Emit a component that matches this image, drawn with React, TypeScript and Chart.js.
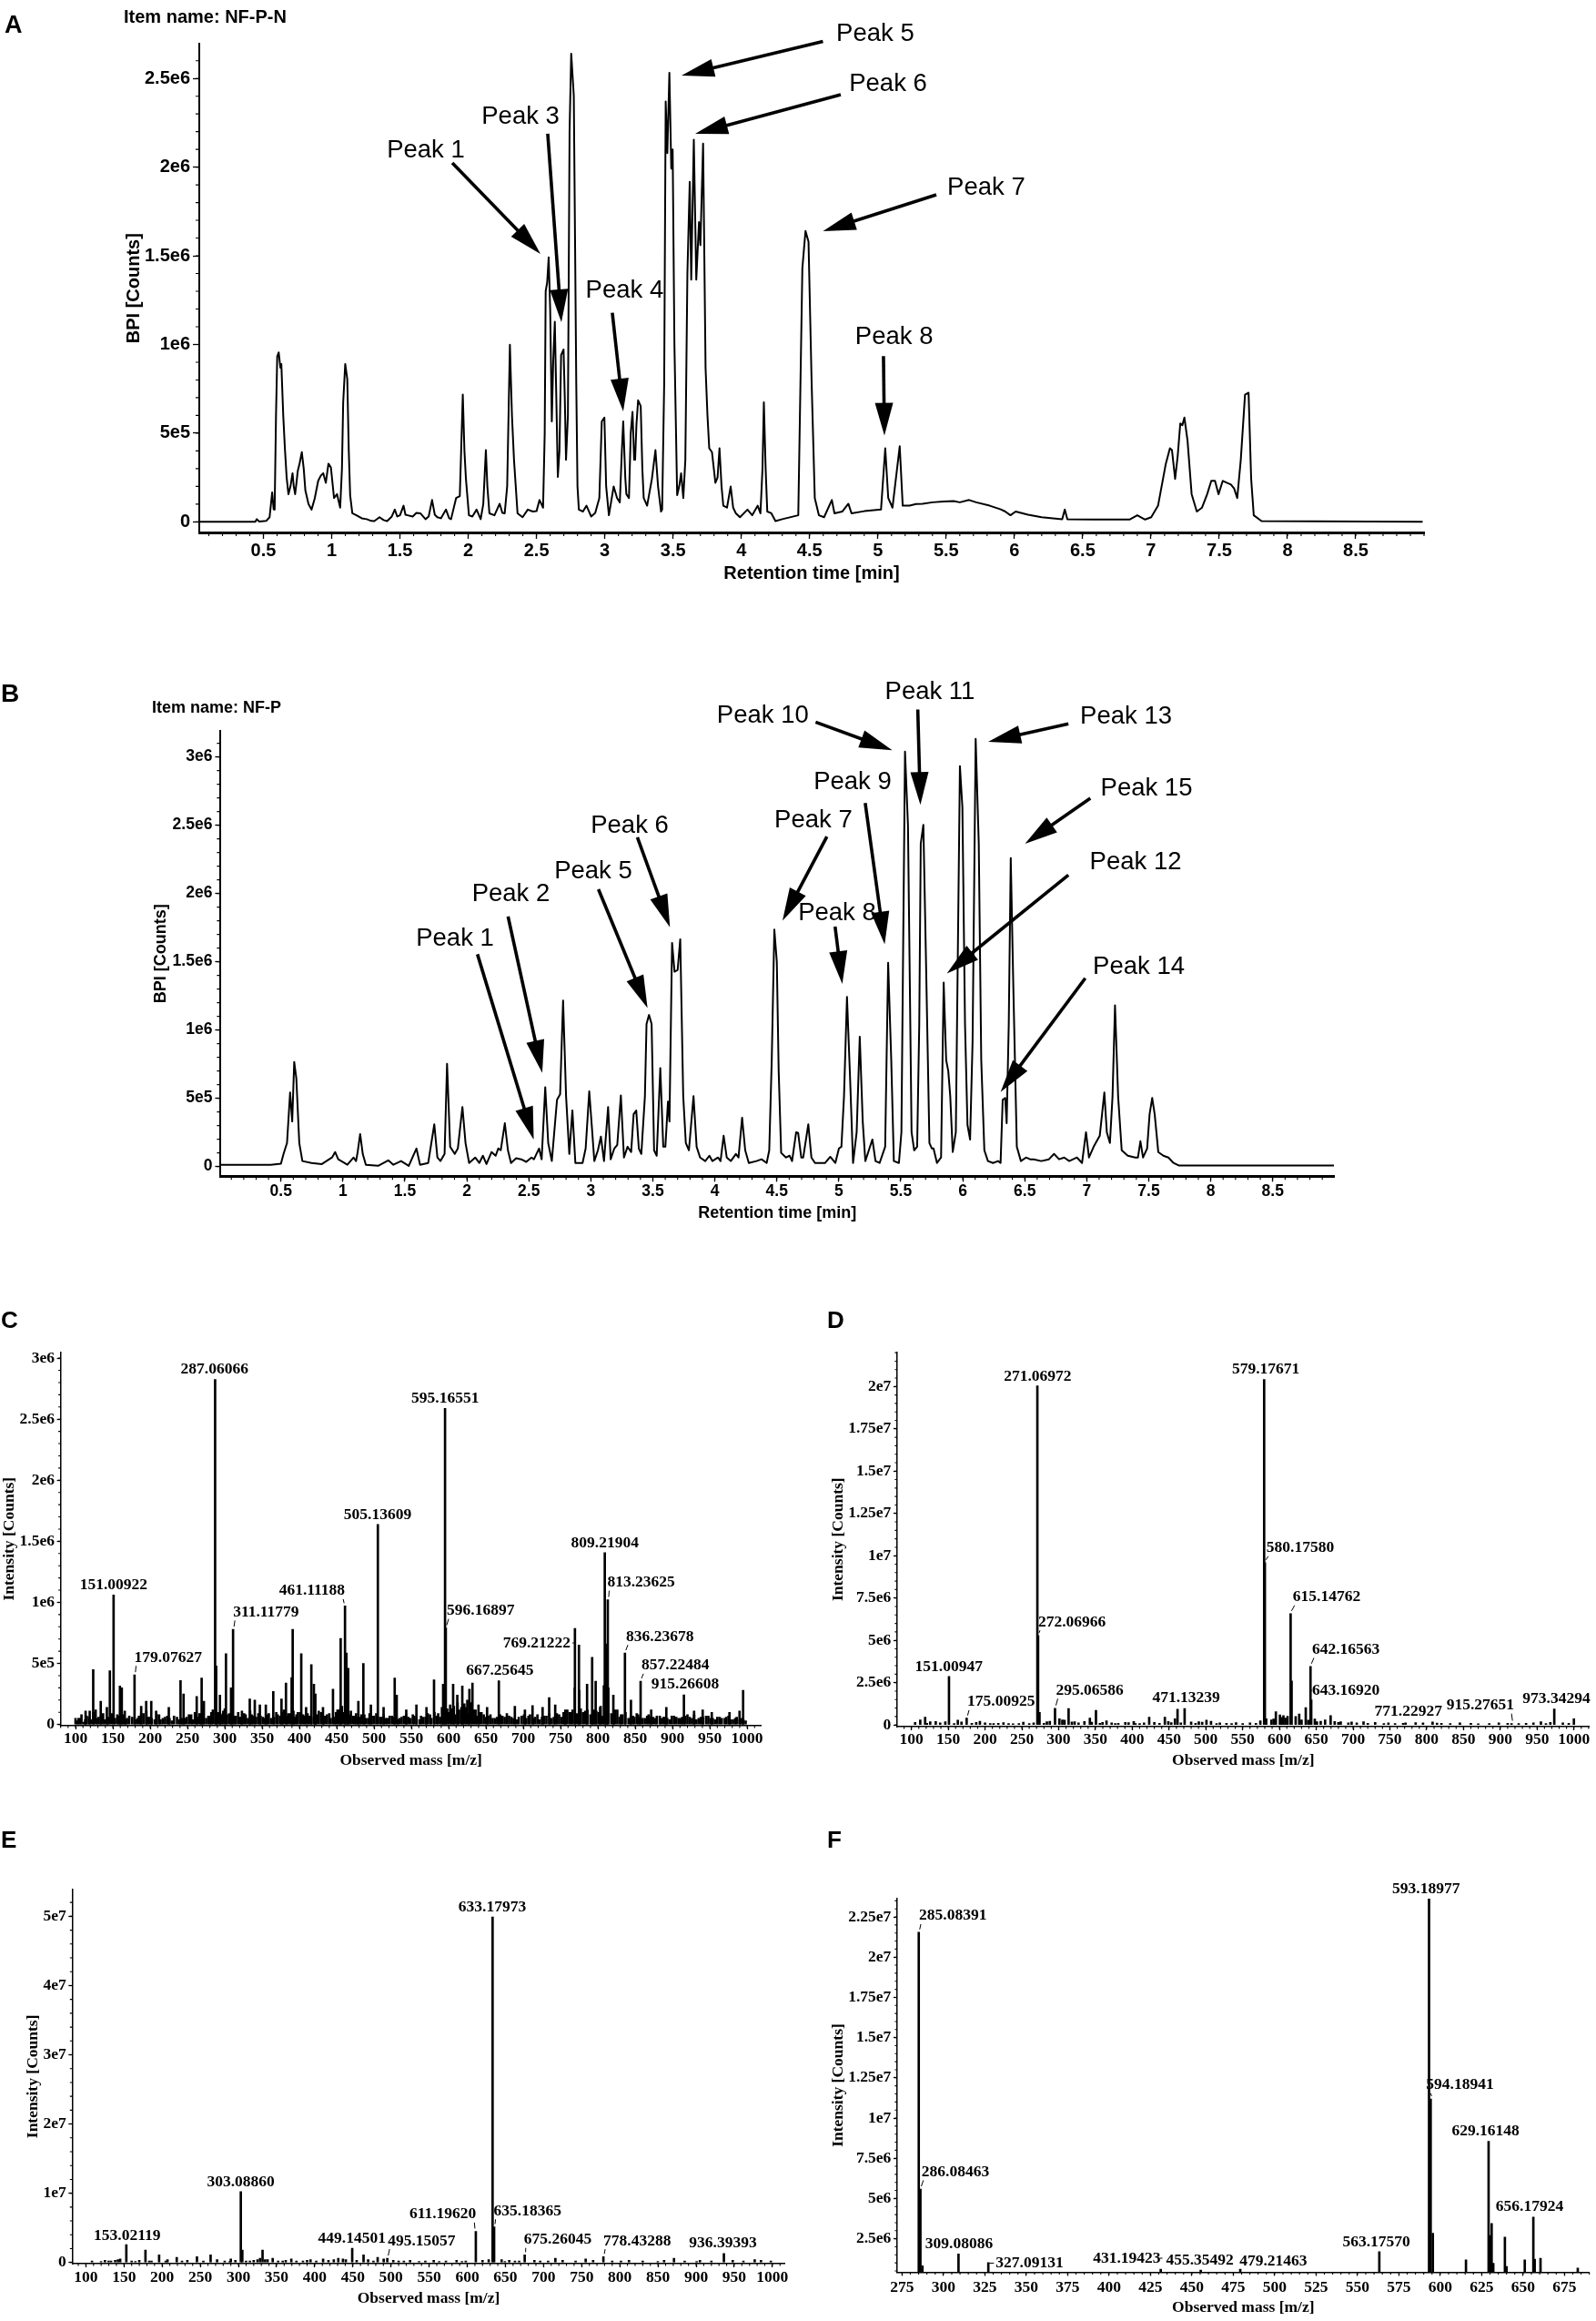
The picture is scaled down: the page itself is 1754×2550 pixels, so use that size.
import React, { useEffect, useRef } from 'react';
import { Chart, registerables } from 'chart.js';

Chart.register(...registerables);

// ---------------- Panel A : BPI chromatogram NF-P-N (intensity in millions of counts) ----------------
const A_TIME = [
  0.03,0.44,0.451,0.47,0.52,0.545,0.564,0.575,0.582,0.592,
  0.601,0.612,0.624,0.631,0.645,0.657,0.67,0.683,0.698,0.713,
  0.722,0.732,0.742,0.751,0.765,0.781,0.795,0.807,0.83,0.852,
  0.875,0.901,0.92,0.938,0.957,0.976,0.994,1.017,1.039,1.062,
  1.075,1.084,1.099,1.114,1.125,1.135,1.151,1.181,1.22,1.256,
  1.29,1.312,1.35,1.38,1.406,1.44,1.462,1.48,1.5,1.526,
  1.54,1.556,1.593,1.62,1.649,1.687,1.71,1.735,1.755,1.773,
  1.8,1.837,1.86,1.874,1.911,1.938,1.948,1.96,1.972,1.983,
  2.005,2.03,2.061,2.091,2.11,2.129,2.14,2.155,2.192,2.23,
  2.25,2.267,2.285,2.305,2.32,2.335,2.361,2.398,2.436,2.473,
  2.5,2.522,2.548,2.56,2.567,2.578,2.589,2.6,2.612,2.622,
  2.634,2.645,2.656,2.668,2.68,2.698,2.707,2.716,2.73,2.742,
  2.754,2.773,2.782,2.791,2.8,2.81,2.84,2.866,2.9,2.93,
  2.96,2.978,2.997,3.01,3.03,3.065,3.09,3.11,3.125,3.135,
  3.15,3.158,3.177,3.19,3.203,3.215,3.222,3.232,3.244,3.263,
  3.275,3.285,3.31,3.345,3.371,3.39,3.412,3.42,3.435,3.446,
  3.458,3.473,3.487,3.497,3.51,3.53,3.545,3.559,3.575,3.59,
  3.605,3.622,3.633,3.652,3.67,3.69,3.7,3.72,3.738,3.752,
  3.765,3.785,3.81,3.826,3.84,3.855,3.868,3.895,3.922,3.94,
  3.96,3.99,4.045,4.08,4.12,4.14,4.155,4.165,4.178,4.19,
  4.22,4.25,4.3,4.417,4.447,4.47,4.492,4.515,4.538,4.568,
  4.606,4.663,4.682,4.739,4.784,4.807,4.9,5.023,5.054,5.076,
  5.107,5.16,5.182,5.232,5.28,5.327,5.4,5.48,5.554,5.6,
  5.668,5.72,5.819,5.9,5.933,5.971,6.009,6.1,6.199,6.35,
  6.369,6.388,6.578,6.843,6.9,6.957,7.002,7.052,7.109,7.139,
  7.154,7.177,7.196,7.215,7.23,7.245,7.268,7.298,7.336,7.374,
  7.412,7.442,7.469,7.495,7.526,7.556,7.586,7.609,7.632,7.658,
  7.689,7.715,7.734,7.753,7.81,8.99,
];
const A_BPI = [
  0,0,0.015,0.002,0.005,0.026,0.166,0.07,0.069,0.6,
  0.933,0.955,0.869,0.89,0.6,0.415,0.25,0.156,0.2,0.274,
  0.2,0.156,0.22,0.285,0.33,0.393,0.3,0.177,0.1,0.069,
  0.13,0.231,0.26,0.274,0.22,0.328,0.307,0.134,0.156,0.08,
  0.3,0.674,0.89,0.804,0.4,0.15,0.048,0.037,0.02,0.015,
  0.005,0.004,0.026,0.01,0.004,0.03,0.069,0.03,0.037,0.091,
  0.04,0.037,0.03,0.05,0.048,0.015,0.03,0.123,0.04,0.026,
  0.02,0.069,0.02,0.015,0.134,0.145,0.4,0.717,0.4,0.242,
  0.037,0.03,0.069,0.015,0.1,0.404,0.2,0.048,0.037,0.102,
  0.05,0.048,0.2,0.998,0.6,0.35,0.048,0.026,0.069,0.058,
  0.06,0.123,0.08,0.5,1.3,1.35,1.491,1.2,0.566,0.9,
  1.128,0.7,0.253,0.4,0.94,0.972,0.7,0.35,0.6,2.2,
  2.64,2.403,1.6,0.782,0.2,0.069,0.058,0.091,0.03,0.05,
  0.134,0.566,0.588,0.2,0.037,0.199,0.134,0.11,0.4,0.566,
  0.25,0.156,0.134,0.5,0.62,0.35,0.35,0.55,0.685,0.653,
  0.3,0.134,0.091,0.242,0.404,0.2,0.058,0.069,0.782,2.37,
  2.079,2.532,1.992,2.1,1.0,0.15,0.2,0.274,0.134,0.35,
  1.4,1.917,1.366,2.154,1.366,1.69,1.56,2.133,0.869,0.6,
  0.415,0.393,0.22,0.25,0.415,0.2,0.091,0.08,0.199,0.08,
  0.048,0.026,0.069,0.037,0.091,0.048,0.3,0.674,0.3,0.058,
  0.048,0.004,0.015,0.037,1.43,1.64,1.58,0.782,0.134,0.037,
  0.026,0.123,0.048,0.058,0.102,0.048,0.06,0.069,0.415,0.134,
  0.08,0.426,0.091,0.091,0.1,0.102,0.11,0.115,0.117,0.11,
  0.123,0.11,0.091,0.07,0.058,0.037,0.058,0.04,0.026,0.015,
  0.069,0.015,0.013,0.013,0.037,0.013,0.026,0.091,0.328,0.415,
  0.404,0.242,0.372,0.555,0.545,0.588,0.458,0.156,0.058,0.08,
  0.156,0.231,0.231,0.156,0.231,0.22,0.21,0.188,0.134,0.35,
  0.717,0.728,0.242,0.037,0.004,0,
];
const A_XTICKS = [0.5,1,1.5,2,2.5,3,3.5,4,4.5,5,5.5,6,6.5,7,7.5,8,8.5];
const A_YTICKS = [0,5e5,1e6,1.5e6,2e6,2.5e6];
// label text, label centre (min, M counts), arrow start, arrow tip
const A_NOTES = [
  { text: 'Peak 1', tx: 1.689, ty: 2.091, ax: 1.883, ay: 2.024, bx: 2.529, by: 1.511 },
  { text: 'Peak 3', tx: 2.383, ty: 2.283, ax: 2.582, ay: 2.189, bx: 2.682, by: 1.126 },
  { text: 'Peak 4', tx: 3.145, ty: 1.303, ax: 3.055, ay: 1.179, bx: 3.135, by: 0.623 },
  { text: 'Peak 5', tx: 4.981, ty: 2.750, ax: 4.598, ay: 2.709, bx: 3.562, by: 2.516 },
  { text: 'Peak 6', tx: 5.075, ty: 2.468, ax: 4.728, ay: 2.409, bx: 3.662, by: 2.188 },
  { text: 'Peak 7', tx: 5.794, ty: 1.883, ax: 5.428, ay: 1.844, bx: 4.598, by: 1.639 },
  { text: 'Peak 8', tx: 5.119, ty: 1.041, ax: 5.041, ay: 0.934, bx: 5.048, by: 0.486 },
];

// ---------------- Panel B : BPI chromatogram NF-P (millions of counts) ----------------
const B_TIME = [
  0.013,0.418,0.5,0.521,0.549,0.574,0.591,0.607,0.624,0.648,
  0.673,0.747,0.83,0.912,0.937,0.962,1.036,1.086,1.106,1.119,
  1.139,1.16,1.185,1.284,1.366,1.407,1.469,1.531,1.593,1.622,
  1.688,1.737,1.762,1.787,1.82,1.84,1.865,1.902,1.927,1.964,
  1.989,2.018,2.067,2.1,2.129,2.158,2.199,2.232,2.253,2.273,
  2.306,2.331,2.356,2.397,2.438,2.479,2.521,2.541,2.582,2.603,
  2.632,2.656,2.685,2.727,2.752,2.776,2.8,2.826,2.851,2.875,
  2.933,2.958,2.987,3.007,3.028,3.057,3.081,3.106,3.139,3.16,
  3.189,3.213,3.242,3.267,3.296,3.325,3.345,3.366,3.387,3.407,
  3.436,3.449,3.469,3.49,3.51,3.531,3.56,3.584,3.601,3.622,
  3.634,3.655,3.675,3.7,3.721,3.745,3.766,3.791,3.828,3.853,
  3.881,3.923,3.956,3.98,4.026,4.046,4.071,4.096,4.129,4.17,
  4.191,4.22,4.245,4.274,4.336,4.377,4.418,4.439,4.459,4.48,
  4.5,4.515,4.535,4.574,4.603,4.623,4.656,4.672,4.697,4.713,
  4.754,4.779,4.808,4.89,4.931,4.972,5.001,5.021,5.042,5.066,
  5.091,5.115,5.144,5.169,5.193,5.214,5.247,5.271,5.296,5.329,
  5.374,5.398,5.423,5.444,5.485,5.505,5.534,5.558,5.587,5.608,
  5.632,5.649,5.661,5.682,5.702,5.731,5.751,5.764,5.792,5.825,
  5.846,5.866,5.883,5.899,5.919,5.944,5.977,5.997,6.018,6.038,
  6.059,6.079,6.104,6.129,6.149,6.174,6.203,6.244,6.285,6.305,
  6.322,6.342,6.354,6.371,6.387,6.408,6.436,6.469,6.51,6.543,
  6.572,6.633,6.695,6.736,6.777,6.818,6.859,6.921,6.962,6.994,
  7.018,7.056,7.105,7.142,7.162,7.187,7.208,7.228,7.253,7.282,
  7.331,7.392,7.413,7.433,7.454,7.487,7.507,7.528,7.548,7.577,
  7.618,7.659,7.7,7.741,8.994,
];
const B_BPI = [
  0.013,0.013,0.02,0.092,0.172,0.542,0.33,0.766,0.647,0.172,
  0.04,0.026,0.018,0.066,0.106,0.053,0.013,0.066,0.04,0.106,
  0.238,0.092,0.013,0.005,0.045,0.013,0.04,0.005,0.132,0.013,
  0.026,0.309,0.066,0.04,0.092,0.753,0.145,0.092,0.132,0.436,
  0.172,0.026,0.066,0.026,0.079,0.018,0.106,0.079,0.132,0.119,
  0.317,0.119,0.026,0.061,0.053,0.034,0.066,0.053,0.132,0.053,
  0.581,0.172,0.04,0.489,0.529,1.216,0.515,0.092,0.41,0.026,
  0.026,0.132,0.55,0.304,0.04,0.119,0.219,0.04,0.436,0.053,
  0.132,0.159,0.521,0.066,0.145,0.106,0.383,0.41,0.132,0.092,
  0.515,1.044,1.11,1.044,0.119,0.079,0.721,0.145,0.145,0.476,
  0.33,1.638,1.427,1.44,1.665,0.515,0.172,0.119,0.515,0.145,
  0.066,0.04,0.079,0.04,0.066,0.04,0.225,0.066,0.04,0.092,
  0.066,0.357,0.119,0.026,0.04,0.053,0.026,0.119,0.78,1.736,
  1.5,0.7,0.1,0.066,0.079,0.04,0.251,0.246,0.066,0.066,
  0.309,0.066,0.026,0.026,0.071,0.026,0.132,0.145,0.515,1.242,
  0.647,0.026,0.251,0.951,0.33,0.04,0.132,0.198,0.04,0.026,
  0.145,1.493,0.78,0.04,0.026,0.251,3.039,2.497,0.251,0.119,
  0.145,1.044,2.365,2.503,1.572,0.172,0.132,0.132,0.026,0.066,
  1.348,0.78,0.7,0.515,0.106,0.251,2.933,2.63,1.044,0.304,
  0.198,0.912,3.132,2.365,0.78,0.119,0.04,0.026,0.04,0.026,
  0.489,0.502,0.317,1.044,2.26,1.308,0.145,0.04,0.066,0.053,
  0.053,0.04,0.053,0.092,0.053,0.066,0.04,0.066,0.026,0.251,
  0.066,0.145,0.225,0.542,0.251,0.172,0.515,1.181,0.515,0.119,
  0.079,0.066,0.066,0.185,0.066,0.132,0.383,0.502,0.383,0.106,
  0.079,0.066,0.026,0.008,0.008,
];
const B_XTICKS = [0.5,1,1.5,2,2.5,3,3.5,4,4.5,5,5.5,6,6.5,7,7.5,8,8.5];
const B_YTICKS = [0,5e5,1e6,1.5e6,2e6,2.5e6,3e6];
const B_NOTES = [
  { text: 'Peak 1', tx: 1.904, ty: 1.667, ax: 2.085, ay: 1.555, bx: 2.539, by: 0.197 },
  { text: 'Peak 2', tx: 2.355, ty: 1.997, ax: 2.332, ay: 1.832, bx: 2.608, by: 0.685 },
  { text: 'Peak 5', tx: 3.019, ty: 2.161, ax: 3.061, ay: 2.031, bx: 3.457, by: 1.16 },
  { text: 'Peak 6', tx: 3.313, ty: 2.494, ax: 3.375, ay: 2.412, bx: 3.638, by: 1.753 },
  { text: 'Peak 7', tx: 4.795, ty: 2.537, ax: 4.904, ay: 2.417, bx: 4.546, by: 1.801 },
  { text: 'Peak 8', tx: 4.986, ty: 1.857, ax: 4.97, ay: 1.758, bx: 5.028, by: 1.337 },
  { text: 'Peak 9', tx: 5.111, ty: 2.817, ax: 5.213, ay: 2.663, bx: 5.37, by: 1.627 },
  { text: 'Peak 10', tx: 4.387, ty: 3.304, ax: 4.813, ay: 3.255, bx: 5.431, by: 3.05 },
  { text: 'Peak 11', tx: 5.735, ty: 3.477, ax: 5.637, ay: 3.348, bx: 5.658, by: 2.649 },
  { text: 'Peak 12', tx: 7.394, ty: 2.227, ax: 6.852, ay: 2.135, bx: 5.872, by: 1.415 },
  { text: 'Peak 13', tx: 7.317, ty: 3.297, ax: 6.852, ay: 3.243, bx: 6.205, by: 3.111 },
  { text: 'Peak 14', tx: 7.42, ty: 1.461, ax: 6.988, ay: 1.379, bx: 6.305, by: 0.546 },
  { text: 'Peak 15', tx: 7.482, ty: 2.771, ax: 7.029, ay: 2.697, bx: 6.502, by: 2.365 },
];

// ---------------- Panel C : MS spectrum (intensity in millions) ----------------
const C_MZ = [
  100,113.5,119,123.7,133.8,142,146,151.00922,159.5,162,
  166,179.07627,188,194.7,201.5,208,225,240.7,244.8,262.4,
  269,272,287.06066,288.5,293.5,301.6,308.4,311.11779,323,333.5,
  340.2,347,355,365,376,382,389.6,391,402.5,416,
  419.4,421.4,431.6,445,455.3,461.11188,463,465.4,479,485.7,
  495.8,505.13609,512.8,527.7,530.4,543.2,556.8,570.3,580.4,592.6,
  595.16551,596.16897,606,611.6,618.3,627.8,631.9,640,651.5,667.25645,
  688.7,702.2,712.4,725.9,734.7,742.8,756.4,769.21222,774.6,785.5,
  792.3,797,803.7,809.21904,811.5,813.23625,820.7,836.23678,844.3,857.22484,
  871.4,891.7,915.26608,928.9,940.4,952.6,976.3,989.8,994.6,
];
const C_INT = [
  0.05,0.11,0.11,0.45,0.19,0.14,0.44,1.061,0.315,0.30,
  0.11,0.406,0.15,0.19,0.19,0.11,0.14,0.36,0.25,0.23,
  0.38,0.19,2.826,0.48,0.24,0.58,0.30,0.779,0.11,0.21,
  0.20,0.16,0.16,0.27,0.21,0.34,0.385,0.78,0.58,0.49,
  0.33,0.25,0.14,0.29,0.705,0.971,0.585,0.46,0.19,0.50,
  0.16,1.638,0.14,0.38,0.24,0.12,0.16,0.14,0.365,0.33,
  2.589,0.791,0.33,0.24,0.315,0.29,0.34,0.16,0.14,0.359,
  0.15,0.12,0.155,0.14,0.22,0.16,0.12,0.786,0.65,0.33,
  0.55,0.355,0.15,1.407,0.66,1.022,0.24,0.586,0.20,0.355,
  0.12,0.14,0.243,0.11,0.12,0.10,0.10,0.11,0.28,
];
const C_NOISE_MZ = [
  102,106,111,115,121,127,131,137,142,156,161,167,172,183,188,195,199,206,212,217,
  223,229,236,246,252,257,263,268,275,280,284,291,296,300,306,313,318,323,328,334,
  338,345,351,357,362,369,374,379,385,394,398,405,409,413,421,426,432,437,442,449,
  453,457,464,469,474,478,483,489,494,500,508,513,518,524,532,537,543,549,554,561,
  566,572,577,584,589,593,600,604,609,614,619,623,627,634,638,644,650,656,662,672,
  678,684,691,698,704,709,716,722,728,738,745,751,756,762,766,772,777,783,790,795,
  801,806,811,818,823,829,833,841,847,852,856,863,868,874,879,885,890,896,902,908,
  913,920,926,932,938,945,951,957,963,970,975,981,986,993,998,
];
const C_NOISE_INT = [
  0.03,0.05,0.02,0.07,0.04,0.12,0.06,0.09,0.05,0.08,0.06,0.04,0.07,0.05,0.09,0.11,0.06,0.04,0.08,0.05,
  0.07,0.03,0.06,0.05,0.08,0.04,0.06,0.09,0.05,0.07,0.12,0.1,0.08,0.13,0.09,0.07,0.1,0.06,0.08,0.11,
  0.07,0.09,0.06,0.08,0.05,0.1,0.07,0.12,0.09,0.06,0.1,0.08,0.14,0.07,0.09,0.11,0.06,0.08,0.05,0.1,
  0.12,0.15,0.09,0.11,0.07,0.06,0.08,0.05,0.09,0.07,0.06,0.08,0.05,0.07,0.04,0.06,0.08,0.05,0.07,0.04,
  0.06,0.09,0.05,0.07,0.06,0.11,0.1,0.13,0.08,0.12,0.1,0.14,0.09,0.12,0.07,0.1,0.06,0.08,0.05,0.07,
  0.09,0.06,0.04,0.07,0.05,0.08,0.06,0.04,0.07,0.05,0.09,0.06,0.08,0.1,0.12,0.09,0.13,0.11,0.08,0.12,
  0.1,0.07,0.11,0.09,0.12,0.06,0.08,0.05,0.07,0.09,0.06,0.05,0.08,0.06,0.07,0.05,0.06,0.04,0.07,0.05,
  0.06,0.08,0.05,0.04,0.06,0.07,0.05,0.04,0.06,0.05,0.07,0.04,0.06,0.05,0.03,
];
const C_NOISE2_MZ = [
  104,108,113,118,124,129,134,139,144,149,153,158,164,169,176,180,185,191,197,202,
  209,214,220,226,232,239,243,249,255,260,266,271,278,282,289,294,298,303,309,315,
  321,326,331,336,342,348,354,359,366,371,377,383,388,392,396,401,407,411,416,423,
  429,434,440,447,451,455,460,467,472,476,481,487,492,497,503,510,516,521,527,534,
  540,546,552,557,563,569,575,581,586,591,598,602,607,612,617,621,625,630,636,641,
  647,653,659,665,669,675,681,687,694,701,707,713,719,725,731,735,741,748,754,759,
  764,769,775,780,786,793,798,803,808,814,821,826,831,837,844,849,854,860,866,871,
  877,883,888,893,899,905,911,917,923,929,935,941,948,954,960,966,972,978,984,990,
  995,
];
const C_NOISE2_INT = [
  0.05,0.08,0.04,0.06,0.1,0.05,0.07,0.04,0.06,0.09,0.05,0.07,0.08,0.05,0.06,0.04,0.07,0.09,0.06,0.05,
  0.08,0.04,0.06,0.05,0.07,0.04,0.05,0.06,0.08,0.1,0.09,0.12,0.07,0.1,0.08,0.09,0.11,0.08,0.1,0.07,
  0.06,0.09,0.05,0.08,0.06,0.07,0.05,0.09,0.06,0.08,0.1,0.07,0.09,0.11,0.08,0.1,0.07,0.09,0.06,0.08,
  0.1,0.07,0.09,0.06,0.12,0.14,0.1,0.08,0.07,0.09,0.06,0.08,0.05,0.07,0.09,0.06,0.05,0.07,0.06,0.05,
  0.07,0.06,0.08,0.05,0.07,0.06,0.08,0.1,0.09,0.14,0.13,0.16,0.15,0.18,0.14,0.17,0.2,0.18,0.12,0.1,
  0.08,0.07,0.05,0.06,0.08,0.06,0.07,0.05,0.06,0.08,0.07,0.05,0.08,0.06,0.07,0.09,0.06,0.08,0.1,0.12,
  0.1,0.3,0.28,0.1,0.12,0.09,0.11,0.14,0.32,0.3,0.1,0.12,0.08,0.1,0.07,0.06,0.08,0.05,0.07,0.06,
  0.05,0.07,0.06,0.05,0.07,0.06,0.05,0.07,0.06,0.08,0.05,0.06,0.07,0.05,0.06,0.05,0.06,0.04,0.05,0.04,
  0.04,
];
const C_LABELS = [
  { mz: 151.00922, lx: 151.0, ly: 1.145 },
  { mz: 179.07627, lx: 224, ly: 0.547, lead: true },
  { mz: 287.06066, lx: 286.3, ly: 2.910 },
  { mz: 311.11779, lx: 355.3, ly: 0.919, lead: true },
  { mz: 461.11188, lx: 416.9, ly: 1.094, lead: true },
  { mz: 505.13609, lx: 504.8, ly: 1.716 },
  { mz: 595.16551, lx: 595.4, ly: 2.666 },
  { mz: 596.16897, lx: 642.9, ly: 0.932, lead: true },
  { mz: 667.25645, lx: 668.6, ly: 0.444 },
  { mz: 769.21222, lx: 718, ly: 0.668, lead: true },
  { mz: 809.21904, lx: 809.3, ly: 1.485 },
  { mz: 813.23625, lx: 858, ly: 1.163, lead: true },
  { mz: 836.23678, lx: 883.1, ly: 0.719, lead: true },
  { mz: 857.22484, lx: 903.9, ly: 0.483, lead: true },
  { mz: 915.26608, lx: 916.9, ly: 0.329 },
];
const C_YTICKS = [0,5e5,1e6,1.5e6,2e6,2.5e6,3e6];

// ---------------- Panel D ----------------
const D_MZ = [
  118.6,125.5,146,151.00947,163,175.00925,193,211.6,232,246,
  271.06972,272.06966,274,284,295.06586,301,308,313.5,321.7,342.4,
  350.7,359.6,376.8,390.6,404.4,423,444.3,458,461.5,471.13239,
  490.4,500.8,514.5,535,579.17671,580.1758,582,595.1,600.6,605.4,
  611,615.14762,616.5,626.8,635.7,642.16563,643.1692,650.9,669.5,683.2,
  693.6,714.2,741.8,771.22927,814,845,915.27651,955.2,973.34294,1000,
];
const D_INT = [
  0.46,0.19,0.19,2.87,0.28,0.40,0.22,0.09,0.09,0.09,
  20.04,5.28,0.74,0.19,0.99,0.37,0.28,0.97,0.19,0.41,
  0.87,0.15,0.09,0.15,0.09,0.46,0.46,0.37,0.93,0.97,
  0.19,0.28,0.09,0.09,20.41,9.59,0.37,0.78,0.6,0.56,
  0.52,6.58,2.6,0.65,1.02,3.46,1.48,0.19,0.56,0.19,
  0.13,0.19,0.09,0.13,0.11,0.07,0.09,0.19,0.95,0.37,
];
const D_NOISE_MZ = [
  105,112,121,133,139,158,168,182,188,200,207,218,225,238,252,260,266,280,288,305,
  318,327,335,345,356,365,372,381,395,402,410,416,430,437,449,453,466,480,486,495,
  507,519,528,541,550,560,568,574,589,592,603,608,622,630,639,648,656,662,675,680,
  698,705,720,730,748,757,768,785,795,808,820,832,845,860,870,885,898,910,925,935,
  945,962,968,985,993,
];
const D_NOISE_INT = [
  0.15,0.3,0.1,0.2,0.12,0.08,0.18,0.1,0.15,0.12,0.08,0.1,0.14,0.07,0.16,0.09,0.12,0.1,0.22,0.3,
  0.18,0.12,0.2,0.16,0.1,0.24,0.12,0.1,0.14,0.2,0.09,0.12,0.15,0.1,0.2,0.14,0.12,0.18,0.1,0.16,
  0.22,0.12,0.1,0.14,0.08,0.12,0.1,0.25,0.3,0.35,0.45,0.4,0.5,0.3,0.28,0.35,0.22,0.3,0.2,0.15,
  0.18,0.12,0.1,0.15,0.12,0.08,0.1,0.14,0.12,0.18,0.1,0.08,0.12,0.1,0.07,0.09,0.12,0.1,0.08,0.1,
  0.12,0.09,0.15,0.12,0.1,
];
const D_LABELS = [
  { mz: 151.00947, lx: 150.8, ly: 3.425 },
  { mz: 175.00925, lx: 221.8, ly: 1.355, lead: true },
  { mz: 271.06972, lx: 271.4, ly: 20.59 },
  { mz: 272.06966, lx: 318.2, ly: 6.075, lead: true },
  { mz: 295.06586, lx: 342.3, ly: 2.038, lead: true },
  { mz: 471.13239, lx: 473.3, ly: 1.575 },
  { mz: 579.17671, lx: 581.4, ly: 21.02 },
  { mz: 580.1758, lx: 628.3, ly: 10.46, lead: true },
  { mz: 615.14762, lx: 664.1, ly: 7.554, lead: true },
  { mz: 642.16563, lx: 690.3, ly: 4.446, lead: true },
  { mz: 643.1692, lx: 690.3, ly: 2.038, lead: true },
  { mz: 771.22927, lx: 775.1, ly: 0.78 },
  { mz: 915.27651, lx: 872.9, ly: 1.15, lead: true },
  { mz: 973.34294, lx: 976.3, ly: 1.52 },
];
const D_YTICKS = [0,2.5e6,5e6,7.5e6,1e7,1.25e7,1.5e7,1.75e7,2e7];

// ---------------- Panel E ----------------
const E_MZ = [
  119.9,129.8,138.4,145,153.02119,164.9,178.1,186,196,204.6,
  219.1,245.6,263.5,282,288.6,303.0886,305.1,315,325,328.3,
  331.6,338.2,344.9,358,369.3,384.6,394.5,411,430.9,440.8,
  449.14501,464,482.5,490.4,495.15057,516.9,536.8,563.2,593,611.1962,
  628.1,633.17973,635.18365,649.3,662.5,675.26045,695.6,715.5,755.2,778.43288,
  801.5,849.8,871,900.7,936.39393,976.8,
];
const E_INT = [
  0.14,0.2,0.3,0.5,2.59,0.14,1.8,0.2,1.1,0.2,
  0.75,0.85,1.1,0.2,0.14,10.24,1.8,0.2,0.4,0.6,
  1.8,0.4,0.6,0.2,0.5,0.2,0.4,0.5,0.6,0.4,
  2.06,1.1,0.75,0.5,0.6,0.2,0.14,0.14,0.14,4.5,
  0.4,49.9,5.16,0.14,0.2,1.09,0.2,0.6,0.5,0.85,
  0.2,0.14,0.6,0.14,1.31,0.4,
];
const E_NOISE_MZ = [
  108,125,133,142,160,170,183,207,226,233,254,272,290,296,310,320,335,352,362,376,
  390,402,418,425,437,455,470,477,503,510,525,545,556,572,586,598,620,645,655,668,
  688,706,725,742,765,790,812,830,858,885,905,920,948,962,985,998,
];
const E_NOISE_INT = [
  0.2,0.3,0.2,0.4,0.2,0.3,0.2,0.4,0.2,0.3,0.2,0.4,0.5,0.3,0.2,0.3,0.4,0.2,0.3,0.2,
  0.3,0.2,0.3,0.4,0.5,0.3,0.4,0.2,0.3,0.2,0.3,0.2,0.3,0.2,0.3,0.2,0.3,0.4,0.3,0.2,
  0.3,0.2,0.3,0.2,0.3,0.2,0.3,0.2,0.3,0.2,0.3,0.2,0.3,0.2,0.3,0.2,
];
const E_LABELS = [
  { mz: 153.02119, lx: 154.2, ly: 3.9 },
  { mz: 303.0886, lx: 303.0, ly: 11.66 },
  { mz: 449.14501, lx: 448.7, ly: 3.43 },
  { mz: 495.15057, lx: 540.1, ly: 3.11, lead: true },
  { mz: 611.1962, lx: 567.9, ly: 6.95, lead: true },
  { mz: 633.17973, lx: 632.8, ly: 51.3 },
  { mz: 635.18365, lx: 679.0, ly: 7.42, lead: true },
  { mz: 675.26045, lx: 718.6, ly: 3.29, lead: true },
  { mz: 778.43288, lx: 822.7, ly: 3.11, lead: true },
  { mz: 936.39393, lx: 935.2, ly: 2.85 },
];
const E_YTICKS = [0,1e7,2e7,3e7,4e7,5e7];

// ---------------- Panel F ----------------
const F_MZ = [
  285.08391,286.08463,287.3,309.08086,327.09131,431.19423,455.35492,479.21463,563.1757,593.18977,
  594.18941,595.5,615.5,629.16148,630.1,631,632,639,640,651,
  656.17924,657,660.5,683,
];
const F_INT = [
  21.55,5.59,0.82,1.55,1.02,0.6,0.55,0.6,1.69,23.61,
  11.19,2.84,1.19,8.56,2.7,3.45,0.98,2.6,0.78,1.19,
  3.85,1.23,1.29,0.68,
];
const F_LABELS = [
  { mz: 285.08391, lx: 305.7, ly: 22.56, lead: true },
  { mz: 286.08463, lx: 307.2, ly: 6.64, lead: true },
  { mz: 309.08086, lx: 309.4, ly: 2.19 },
  { mz: 327.09131, lx: 352, ly: 0.984, lead: true },
  { mz: 431.19423, lx: 410.7, ly: 1.29, lead: true },
  { mz: 455.35492, lx: 454.8, ly: 1.126, lead: true },
  { mz: 479.21463, lx: 499.2, ly: 1.086, lead: true },
  { mz: 563.1757, lx: 561.4, ly: 2.3 },
  { mz: 593.18977, lx: 591.4, ly: 24.21 },
  { mz: 594.18941, lx: 611.9, ly: 12.05, lead: true },
  { mz: 629.16148, lx: 627.3, ly: 9.16 },
  { mz: 656.17924, lx: 653.9, ly: 4.48 },
];
const F_YTICKS = [2.5e6,5e6,7.5e6,1e7,1.25e7,1.5e7,1.75e7,2e7,2.25e7];

const MS_XTICKS = [100,150,200,250,300,350,400,450,500,550,600,650,700,750,800,850,900,950,1000];
const F_XTICKS = [275,300,325,350,375,400,425,450,475,500,525,550,575,600,625,650,675];

// ---------------- helpers ----------------
const SANS = '"Liberation Sans", Arial, Helvetica, sans-serif';
const SERIF = '"Liberation Serif", "Times New Roman", Times, serif';
const M = 1e6;

function expLabel(v: number): string {
  if (v === 0) return '0';
  return v.toExponential().replace('e+', 'e');
}

function toPoints(xs: number[], ys: number[], scale: number) {
  const n = Math.min(xs.length, ys.length);
  const out: { x: number; y: number }[] = [];
  for (let i = 0; i < n; i++) out.push({ x: xs[i], y: ys[i] * scale });
  return out;
}

function minorTicksPlugin(xStep: number, yStep: number, len: number, width: number) {
  return {
    id: 'minorTicks',
    afterDraw(chart: any) {
      const { ctx } = chart;
      const xs = chart.scales.x;
      const ys = chart.scales.y;
      ctx.save();
      ctx.strokeStyle = '#000';
      ctx.lineWidth = width;
      ctx.beginPath();
      for (let i = Math.ceil(xs.min / xStep - 1e-6); i * xStep <= xs.max + 1e-9; i++) {
        const p = xs.getPixelForValue(i * xStep);
        ctx.moveTo(p, xs.top);
        ctx.lineTo(p, xs.top + len);
      }
      for (let i = Math.ceil(ys.min / yStep - 1e-6); i * yStep <= ys.max + 1e-9; i++) {
        const p = ys.getPixelForValue(i * yStep);
        ctx.moveTo(ys.right, p);
        ctx.lineTo(ys.right - len, p);
      }
      ctx.stroke();
      ctx.restore();
    },
  };
}

function drawArrow(ctx: CanvasRenderingContext2D, x1: number, y1: number, x2: number, y2: number) {
  const lw = 3.6, headLen = 36, headW = 20;
  const ang = Math.atan2(y2 - y1, x2 - x1);
  const bx = x2 - headLen * Math.cos(ang);
  const by = y2 - headLen * Math.sin(ang);
  ctx.lineWidth = lw;
  ctx.beginPath();
  ctx.moveTo(x1, y1);
  ctx.lineTo(bx + 2 * Math.cos(ang), by + 2 * Math.sin(ang));
  ctx.stroke();
  ctx.beginPath();
  ctx.moveTo(x2, y2);
  ctx.lineTo(bx + (headW / 2) * Math.sin(ang), by - (headW / 2) * Math.cos(ang));
  ctx.lineTo(bx - (headW / 2) * Math.sin(ang), by + (headW / 2) * Math.cos(ang));
  ctx.closePath();
  ctx.fill();
}

function peakNotesPlugin(notes: any[]) {
  return {
    id: 'peakNotes',
    afterDraw(chart: any) {
      const { ctx } = chart;
      const xs = chart.scales.x;
      const ys = chart.scales.y;
      ctx.save();
      ctx.fillStyle = '#000';
      ctx.strokeStyle = '#000';
      ctx.font = `27.5px ${SANS}`;
      ctx.textAlign = 'center';
      ctx.textBaseline = 'middle';
      for (const n of notes) {
        ctx.fillText(n.text, xs.getPixelForValue(n.tx), ys.getPixelForValue(n.ty * M));
        drawArrow(
          ctx,
          xs.getPixelForValue(n.ax), ys.getPixelForValue(n.ay * M),
          xs.getPixelForValue(n.bx), ys.getPixelForValue(n.by * M),
        );
      }
      ctx.restore();
    },
  };
}

function massLabelsPlugin(labels: any[], mzs: number[], ints: number[]) {
  return {
    id: 'massLabels',
    afterDraw(chart: any) {
      const { ctx } = chart;
      const xs = chart.scales.x;
      const ys = chart.scales.y;
      ctx.save();
      ctx.fillStyle = '#000';
      ctx.strokeStyle = '#000';
      ctx.font = `bold 17.5px ${SERIF}`;
      ctx.textAlign = 'center';
      ctx.textBaseline = 'middle';
      for (const l of labels) {
        const text = l.mz.toFixed(5);
        const cx = xs.getPixelForValue(l.lx);
        const cy = ys.getPixelForValue(l.ly * M);
        ctx.fillText(text, cx, cy);
        if (!l.lead) continue;
        const idx = mzs.indexOf(l.mz);
        if (idx < 0) continue;
        const w = ctx.measureText(text).width;
        const left = cx - w / 2;
        const right = cx + w / 2;
        const px = xs.getPixelForValue(l.mz);
        const py = ys.getPixelForValue(ints[idx] * M);
        const ex = Math.min(Math.max(px, left + 2), right - 2);
        const ey = cy + 9;
        ctx.lineWidth = 1;
        ctx.beginPath();
        if (ey < py - 4) {
          ctx.moveTo(px + (ex >= px ? 1 : -1), py - 3);
          ctx.lineTo(ex, ey);
        } else if (px < left) {
          ctx.moveTo(px + 1, cy);
          ctx.lineTo(left - 2, cy);
        } else if (px > right) {
          ctx.moveTo(px - 1, cy);
          ctx.lineTo(right + 2, cy);
        }
        ctx.stroke();
      }
      ctx.restore();
    },
  };
}

interface PanelCfg {
  box: [number, number, number, number];
  pad: [number, number, number, number];
  yW: number;
  xH: number;
  kind: 'line' | 'bar';
  points: { x: number; y: number }[];
  xMin: number; xMax: number; yMin: number; yMax: number;
  xTicks: number[]; yTicks: number[];
  xTitle: string; yTitle: string;
  family: string; tickSize: number; titleSize: number;
  tickLen: number; xPad: number; yPad: number;
  xBorder: number; yBorder: number;
  minor: [number, number, number];
  extra: any;
}

function buildConfig(cfg: PanelCfg): any {
  const tickFont = { family: cfg.family, size: cfg.tickSize, weight: 'bold' as const };
  const titleFont = { family: cfg.family, size: cfg.titleSize, weight: 'bold' as const };
  const dataset =
    cfg.kind === 'line'
      ? {
          data: cfg.points,
          borderColor: '#000',
          borderWidth: 2,
          pointRadius: 0,
          tension: 0,
          fill: false,
          borderJoinStyle: 'round',
        }
      : {
          data: cfg.points,
          backgroundColor: '#000',
          borderWidth: 0,
          barThickness: 2,
          grouped: false,
        };
  return {
    type: cfg.kind,
    data: { datasets: [dataset] },
    options: {
      animation: false,
      responsive: false,
      devicePixelRatio: 1,
      events: [],
      layout: { padding: { left: cfg.pad[0], top: cfg.pad[1], right: cfg.pad[2], bottom: cfg.pad[3] } },
      plugins: { legend: { display: false }, tooltip: { enabled: false }, title: { display: false } },
      scales: {
        x: {
          type: 'linear',
          min: cfg.xMin,
          max: cfg.xMax,
          offset: false,
          grid: { display: true, offset: false, drawOnChartArea: false, drawTicks: true, tickLength: cfg.tickLen, tickColor: '#000', tickWidth: 1.3 },
          border: { display: true, color: '#000', width: cfg.xBorder },
          ticks: {
            color: '#000',
            font: tickFont,
            padding: cfg.xPad,
            autoSkip: false,
            maxRotation: 0,
            callback: (v: any) => String(Number(v)),
          },
          title: { display: true, text: cfg.xTitle, color: '#000', font: titleFont, padding: 0 },
          afterBuildTicks: (s: any) => { s.ticks = cfg.xTicks.map((v) => ({ value: v })); },
          afterFit: (s: any) => { s.height = cfg.xH; },
        },
        y: {
          type: 'linear',
          min: cfg.yMin,
          max: cfg.yMax,
          grid: { display: true, drawOnChartArea: false, drawTicks: true, tickLength: cfg.tickLen, tickColor: '#000', tickWidth: 1.3 },
          border: { display: true, color: '#000', width: cfg.yBorder },
          ticks: {
            color: '#000',
            font: tickFont,
            padding: cfg.yPad,
            autoSkip: false,
            callback: (v: any) => expLabel(Number(v)),
          },
          title: { display: true, text: cfg.yTitle, color: '#000', font: titleFont, padding: 0 },
          afterBuildTicks: (s: any) => { s.ticks = cfg.yTicks.map((v) => ({ value: v })); },
          afterFit: (s: any) => { s.width = cfg.yW; },
        },
      },
    },
    plugins: [minorTicksPlugin(cfg.minor[0], cfg.minor[1], cfg.minor[2], 1.1), cfg.extra],
  };
}

const CHROM_X = 'Retention time [min]';
const CHROM_Y = 'BPI [Counts]';
const MS_X = 'Observed mass [m/z]';
const MS_Y = 'Intensity [Counts]';

const PANELS: PanelCfg[] = [
  {
    box: [0, 0, 1754, 700], pad: [135, 48.4, 189, 58], yW: 84, xH: 57, kind: 'line',
    points: toPoints(A_TIME, A_BPI, M), xMin: 0.03, xMax: 9.0, yMin: -0.06e6, yMax: 2.694e6,
    xTicks: A_XTICKS, yTicks: A_YTICKS, xTitle: CHROM_X, yTitle: CHROM_Y,
    family: SANS, tickSize: 20, titleSize: 20, tickLen: 7, xPad: 1, yPad: 3, xBorder: 3, yBorder: 2,
    minor: [0.1, 1e5, 4], extra: peakNotesPlugin(A_NOTES),
  },
  {
    box: [0, 700, 1754, 700], pad: [166.2, 103, 288, 56.2], yW: 76.2, xH: 51.5, kind: 'line',
    points: toPoints(B_TIME, B_BPI, M), xMin: 0.013, xMax: 8.994, yMin: -0.0713e6, yMax: 3.191e6,
    xTicks: B_XTICKS, yTicks: B_YTICKS, xTitle: CHROM_X, yTitle: CHROM_Y,
    family: SANS, tickSize: 17.5, titleSize: 18, tickLen: 6, xPad: 0.5, yPad: 3, xBorder: 3, yBorder: 2,
    minor: [0.1, 1e5, 4], extra: peakNotesPlugin(B_NOTES),
  },
  {
    box: [0, 1420, 877, 560], pad: [0, 65.4, 40.3, 34.6], yW: 66.6, xH: 49.4, kind: 'bar',
    points: [
      ...toPoints(C_NOISE_MZ, C_NOISE_INT, M),
      ...toPoints(C_NOISE2_MZ, C_NOISE2_INT, M),
      ...toPoints(C_MZ, C_INT, M),
    ],
    xMin: 80, xMax: 1019, yMin: -1e4, yMax: 3.05e6,
    xTicks: MS_XTICKS, yTicks: C_YTICKS, xTitle: MS_X, yTitle: MS_Y,
    family: SERIF, tickSize: 17.5, titleSize: 17.5, tickLen: 4, xPad: 0.3, yPad: 2.6, xBorder: 1.5, yBorder: 1.5,
    minor: [10, 1e5, 2.5], extra: massLabelsPlugin(C_LABELS, C_MZ, C_INT),
  },
  {
    box: [877, 1420, 877, 560], pad: [33.5, 65.4, 7.3, 34.6], yW: 75.4, xH: 48.4, kind: 'bar',
    points: [...toPoints(D_NOISE_MZ, D_NOISE_INT, M), ...toPoints(D_MZ, D_INT, M)],
    xMin: 80.5, xMax: 1021, yMin: -1e5, yMax: 22.04e6,
    xTicks: MS_XTICKS, yTicks: D_YTICKS, xTitle: MS_X, yTitle: MS_Y,
    family: SERIF, tickSize: 17.5, titleSize: 17.5, tickLen: 4, xPad: 0.3, yPad: 2.6, xBorder: 1.5, yBorder: 1.5,
    minor: [10, 5e5, 2.5], extra: massLabelsPlugin(D_LABELS, D_MZ, D_INT),
  },
  {
    box: [0, 1990, 877, 560], pad: [25.5, 85.7, 14.3, 13.9], yW: 53.8, xH: 49.1, kind: 'bar',
    points: [...toPoints(E_NOISE_MZ, E_NOISE_INT, M), ...toPoints(E_MZ, E_INT, M)],
    xMin: 82, xMax: 1016.5, yMin: -1.7e5, yMax: 5.39e7,
    xTicks: MS_XTICKS, yTicks: E_YTICKS, xTitle: MS_X, yTitle: MS_Y,
    family: SERIF, tickSize: 17.5, titleSize: 17.5, tickLen: 4, xPad: 0.9, yPad: 2.6, xBorder: 1.5, yBorder: 1.5,
    minor: [10, 2e6, 2.5], extra: massLabelsPlugin(E_LABELS, E_MZ, E_INT),
  },
  {
    box: [877, 1990, 877, 560], pad: [33.5, 95.7, 7.3, 3.8], yW: 75.4, xH: 49.8, kind: 'bar',
    points: toPoints(F_MZ, F_INT, M),
    xMin: 272, xMax: 690, yMin: 0.419e6, yMax: 23.65e6,
    xTicks: F_XTICKS, yTicks: F_YTICKS, xTitle: MS_X, yTitle: MS_Y,
    family: SERIF, tickSize: 17.5, titleSize: 17.5, tickLen: 4, xPad: 2.3, yPad: 2.6, xBorder: 1.5, yBorder: 1.5,
    minor: [5, 5e5, 2.5], extra: massLabelsPlugin(F_LABELS, F_MZ, F_INT),
  },
];

function ChartPanel({ cfg }: { cfg: PanelCfg }) {
  const ref = useRef<HTMLCanvasElement | null>(null);
  useEffect(() => {
    if (!ref.current) return;
    const chart = new Chart(ref.current, buildConfig(cfg));
    return () => chart.destroy();
  }, [cfg]);
  const [l, t, w, h] = cfg.box;
  return (
    <canvas
      ref={ref}
      width={w}
      height={h}
      style={{ position: 'absolute', left: l, top: t, width: w, height: h }}
    />
  );
}

const TEXTS = [
  { text: 'A', left: 5, top: 13.5, size: 27 },
  { text: 'B', left: 1, top: 748, size: 28 },
  { text: 'C', left: 1, top: 1437.3, size: 26 },
  { text: 'D', left: 909, top: 1437.3, size: 26 },
  { text: 'E', left: 1, top: 2008, size: 26 },
  { text: 'F', left: 909, top: 2008, size: 26 },
  { text: 'Item name: NF-P-N', left: 136, top: 8.2, size: 20 },
  { text: 'Item name: NF-P', left: 167, top: 767.7, size: 18 },
];

export default function App() {
  useEffect(() => {
    document.body.style.margin = '0';
  }, []);
  return (
    <div
      style={{
        position: 'absolute',
        left: 0,
        top: 0,
        width: 1754,
        height: 2550,
        background: '#fff',
        overflow: 'hidden',
        fontFamily: SANS,
      }}
    >
      {PANELS.map((cfg, i) => (
        <ChartPanel key={i} cfg={cfg} />
      ))}
      {TEXTS.map((t, i) => (
        <div
          key={'t' + i}
          style={{
            position: 'absolute',
            left: t.left,
            top: t.top,
            fontSize: t.size,
            lineHeight: `${t.size}px`,
            fontWeight: 'bold',
            fontFamily: SANS,
            color: '#000',
            whiteSpace: 'nowrap',
          }}
        >
          {t.text}
        </div>
      ))}
    </div>
  );
}
